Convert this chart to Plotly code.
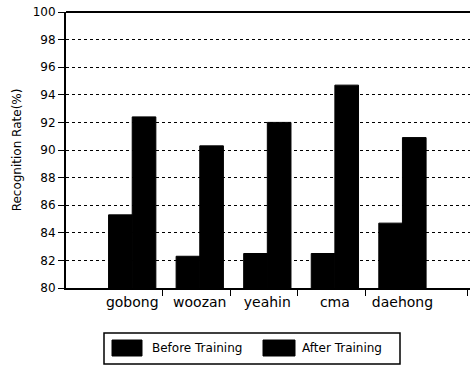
import plotly.graph_objects as go

categories = ["gobong", "woozan", "yeahin", "cma", "daehong"]
before_training = [85.3, 82.3, 82.5, 82.5, 84.7]
after_training = [92.4, 90.3, 92.0, 94.7, 90.9]
y_ticks = [80, 82, 84, 86, 88, 90, 92, 94, 96, 98, 100]
series_names = ["Before Training", "After Training"]

x_idx = list(range(len(categories)))
FAM = "DejaVu Sans, Verdana, sans-serif"

fig = go.Figure()
fig.add_trace(go.Bar(x=x_idx, y=before_training, name=series_names[0],
                     marker=dict(color="#000000", line=dict(color="#000000", width=1))))
fig.add_trace(go.Bar(x=x_idx, y=after_training, name=series_names[1],
                     marker=dict(color="#000000", line=dict(color="#000000", width=1))))

# plot area in page pixels: x 66..470, y 12..288
W, H = 472, 366
L, R, T, B = 66, 2, 12, 78
PW, PH = W - L - R, H - T - B


def px(fx):
    return (fx - L) / PW


def py(fy):
    return (H - B - fy) / PH


fig.update_layout(
    width=W, height=H,
    margin=dict(l=L, r=R, t=T, b=B),
    paper_bgcolor="white", plot_bgcolor="white",
    barmode="group", bargap=0.3, bargroupgap=0.0,
    font=dict(family=FAM, color="#000000", size=12),
    showlegend=False,
    xaxis=dict(range=[-0.98, 5.0], showline=True, linecolor="#000000", linewidth=2,
               tickvals=x_idx, ticktext=categories, ticks="outside", ticklen=0,
               tickcolor="#000000",
               minor=dict(tickmode="array", tickvals=[0.45, 1.45, 2.45, 3.45, 4.97],
                          ticks="outside", ticklen=6, tickcolor="#000000", tickwidth=1,
                          showgrid=False),
               showgrid=False, tickfont=dict(family=FAM, size=14, color="#000000")),
    yaxis=dict(range=[80, 100], tickvals=y_ticks, showline=True, linecolor="#000000",
               linewidth=2, ticks="outside", ticklen=6, tickcolor="#000000",
               showgrid=True, gridcolor="#000000", gridwidth=1, griddash="dot",
               tickfont=dict(family=FAM, size=12, color="#000000"),
               title=dict(text="Recognition Rate(%)",
                          font=dict(family=FAM, size=12, color="#000000"), standoff=8)),
)
# top border of plot area
fig.add_shape(type="line", xref="paper", yref="paper", x0=0, x1=1, y0=1, y1=1,
              line=dict(color="#000000", width=2))

# legend drawn manually: box, swatches, labels
fig.add_shape(type="rect", xref="paper", yref="paper",
              x0=px(104), x1=px(400), y0=py(333), y1=py(364),
              line=dict(color="#000000", width=1.5), fillcolor="white")
swatches = [(112, 142, 150), (263, 295, 300)]
for (sx0, sx1, tx), name in zip(swatches, series_names):
    fig.add_shape(type="rect", xref="paper", yref="paper",
                  x0=px(sx0), x1=px(sx1), y0=py(340), y1=py(356),
                  line=dict(color="#000000", width=1), fillcolor="#000000")
    fig.add_annotation(x=px(tx), y=py(348), xref="paper", yref="paper",
                       text=name, showarrow=False, xanchor="left", yanchor="middle",
                       font=dict(family=FAM, size=12, color="#000000"))

fig.write_html("out.html", config={"displayModeBar": False},
               post_script="document.body.style.margin='0';")
